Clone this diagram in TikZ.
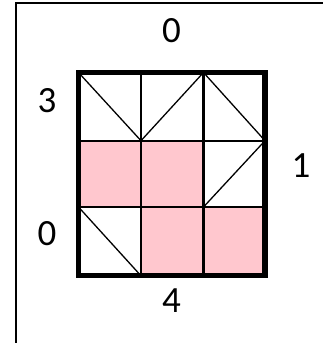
\documentclass[tikz,border=0pt]{standalone}
\usepackage{fontspec}
\setmainfont{Carlito}
\definecolor{cellpink}{HTML}{FFC7CE}
\tikzset{
  lbl/.style={font=\fontsize{37}{38}\selectfont, inner sep=0pt, anchor=center},
  thinline/.style={line width=2.2pt},
  diag/.style={line width=1.3pt},
  frame/.style={line width=5.2pt},
  pinkcell/.style={fill=cellpink, draw=none}
}
\begin{document}
\begin{tikzpicture}[x=1pt,y=-1pt]
\useasboundingbox (0,0) rectangle (322,343);
% outer page frame
\draw[line width=2pt] (16.2,350) -- (16.2,2.8) -- (330,2.8);
% grid coordinates
\def\xa{78.5}\def\xb{141}\def\xc{203.5}\def\xd{265}
\def\ya{72.5}\def\yb{140.7}\def\yc{207}\def\yd{275.8}
% pink cells
\fill[pinkcell] (\xa,\yb) rectangle (\xc,\yc);
\fill[pinkcell] (\xb,\yc) rectangle (\xd,\yd);
% diagonals
\draw[diag] (\xa,\ya) -- (\xb,\yb) -- (\xc,\ya) -- (\xd,\yb) -- (\xc,\yc);
\draw[diag] (\xa,\yc) -- (\xb,\yd);
% inner lines
\draw[thinline] (\xb,\ya) -- (\xb,\yd);
\draw[thinline] (\xc,\ya) -- (\xc,\yd);
\draw[thinline] (\xa,\yb) -- (\xd,\yb);
\draw[thinline] (\xa,\yc) -- (\xd,\yc);
% thick border
\draw[frame] (\xa,\ya) rectangle (\xd,\yd);
% labels
\node[lbl] (top) at (171.5,30.5) {0};
\node[lbl] (left1) at (47,101) {3};
\node[lbl] (right) at (301,165.5) {1};
\node[lbl] (left2) at (47,234) {0};
\node[lbl] (bottom) at (171.5,301) {4};
\end{tikzpicture}
\end{document}
